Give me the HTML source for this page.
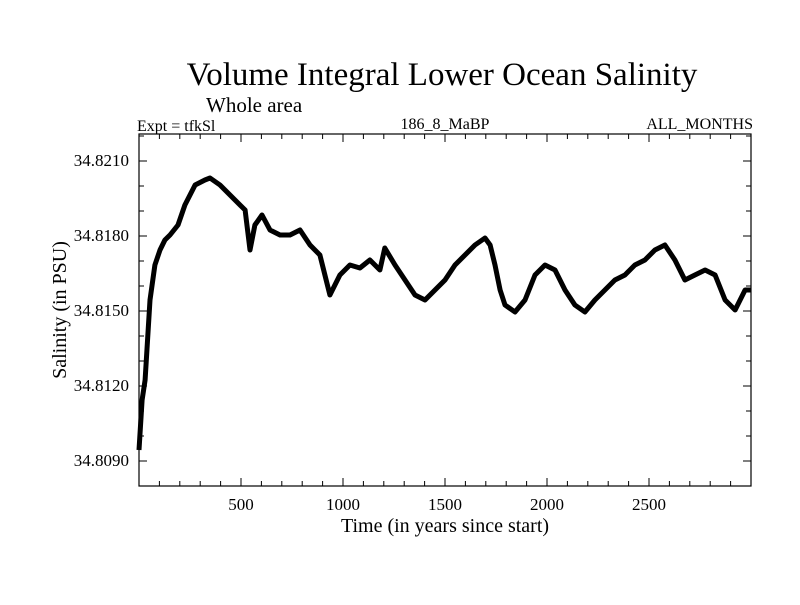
<!DOCTYPE html>
<html><head><meta charset="utf-8"><style>
body{margin:0;background:#fff}
svg text{font-family:"Liberation Serif",serif;fill:#000}
</style></head><body>
<svg id="chart" width="800" height="600">
<text x="442" y="85" font-size="33" text-anchor="middle">Volume Integral Lower Ocean Salinity</text>
<text x="206" y="112" font-size="21">Whole area</text>
<text x="137" y="131" font-size="16">Expt = tfkSl</text>
<text x="445" y="129" font-size="16" text-anchor="middle">186_8_MaBP</text>
<text x="753" y="129" font-size="16" text-anchor="end">ALL_MONTHS</text>
<text x="445" y="532" font-size="20" text-anchor="middle">Time (in years since start)</text>
<text transform="translate(66,310) rotate(-90)" font-size="20" text-anchor="middle">Salinity (in PSU)</text>
<g id="axes"></g>
<path id="line" fill="none" stroke="#000" stroke-width="5" stroke-linejoin="round"/>
<rect x="139" y="134" width="612" height="352" fill="none" stroke="#000" stroke-width="1.2"/>
</svg>
<script>
const years=[0,15,30,54,78,103,127,152,191,225,275,323,348,397,446,495,520,544,568,603,642,691,740,789,838,887,936,985,1034,1083,1132,1181,1205,1255,1304,1353,1402,1451,1500,1549,1598,1647,1696,1721,1745,1770,1794,1843,1892,1941,1990,2039,2088,2137,2186,2235,2284,2333,2382,2431,2480,2529,2578,2627,2676,2725,2775,2824,2873,2922,2971,3000];
const salinity=[34.80944,34.81144,34.81224,34.81544,34.81684,34.81744,34.81784,34.81804,34.81844,34.81924,34.82004,34.82024,34.82032,34.82004,34.81964,34.81924,34.81904,34.81744,34.81844,34.81884,34.81824,34.81804,34.81804,34.81824,34.81764,34.81724,34.81564,34.81644,34.81684,34.81672,34.81704,34.81664,34.81752,34.81684,34.81624,34.81564,34.81544,34.81584,34.81624,34.81684,34.81724,34.81764,34.81792,34.81764,34.81684,34.81584,34.81524,34.81496,34.81544,34.81644,34.81684,34.81664,34.81584,34.81524,34.81496,34.81544,34.81584,34.81624,34.81644,34.81684,34.81704,34.81744,34.81764,34.81704,34.81624,34.81644,34.81664,34.81644,34.81544,34.81504,34.81584,34.81584];
const xTicks=[500,1000,1500,2000,2500];
const yTicks=[34.8090,34.8120,34.8150,34.8180,34.8210];
const X0=139,X1=751,Y0=486,Y1=134,xmin=0,xmax=3000,ymin=34.8080,ymax=34.82208;
const sx=v=>X0+(v-xmin)/(xmax-xmin)*(X1-X0);
const sy=v=>Y0-(v-ymin)/(ymax-ymin)*(Y0-Y1);
const NS="http://www.w3.org/2000/svg";
const g=document.getElementById('axes');
function ln(x1,y1,x2,y2,n){const l=document.createElementNS(NS,'line');l.setAttribute('x1',x1);l.setAttribute('y1',y1);l.setAttribute('x2',x2);l.setAttribute('y2',y2);l.setAttribute('stroke','#000');


g.appendChild(l);}
function tx(x,y,s,a,n){const t=document.createElementNS(NS,'text');t.setAttribute('x',x);t.setAttribute('y',y);t.setAttribute('font-size','17');t.setAttribute('text-anchor',a);t.textContent=s;


g.appendChild(t);}
for(let v=100;v<3000;v+=100){const x=sx(v);const major=v%500===0;const L=major?8:5;ln(x,Y0,x,Y0-L,'x-tick');ln(x,Y1,x,Y1+L,'x-tick-top');}
xTicks.forEach(v=>tx(sx(v),510,String(v),'middle','x-tick-label'));
for(let k=-1;k<=13;k++){const v=34.8090+k*0.001;if(v<ymin-1e-9||v>ymax)continue;const y=sy(v);const major=(k%3===0);const L=major?8:5;ln(X0,y,X0+L,y,'y-tick');ln(X1,y,X1-L,y,'y-tick-right');}
yTicks.forEach(v=>tx(129,sy(v)+5,v.toFixed(4),'end','y-tick-label'));
document.getElementById('line').setAttribute('d',years.map((y,i)=>(i?'L':'M')+sx(y).toFixed(1)+','+sy(salinity[i]).toFixed(1)).join(''));
</script>
</body></html>
